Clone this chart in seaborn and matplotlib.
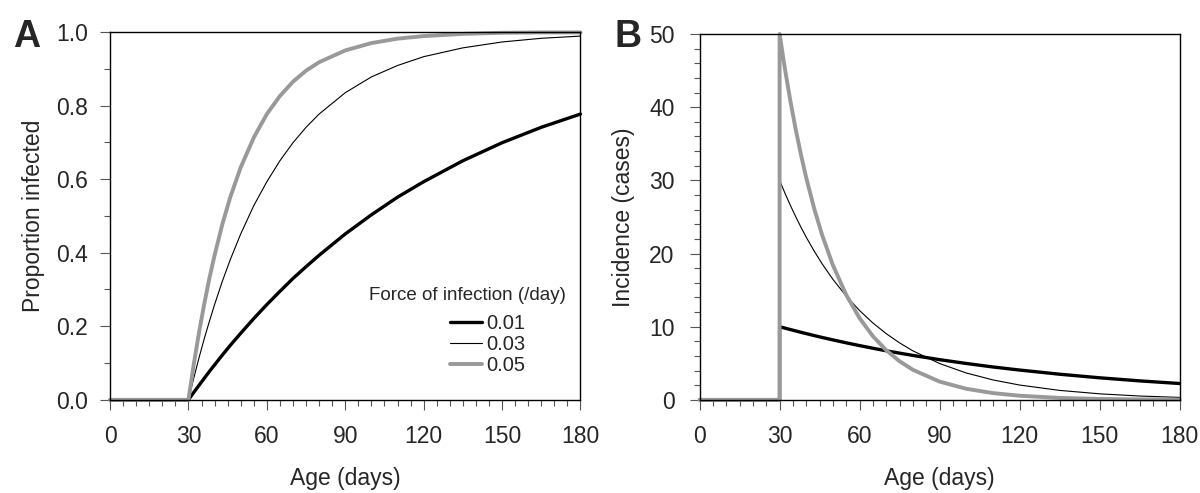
import matplotlib
matplotlib.use("Agg")
import matplotlib.pyplot as plt
from matplotlib.ticker import MultipleLocator
import seaborn as sns
import pandas as pd

# Age points (days); 30 repeated to show the step at onset
ages = [0, 30, 30, 32, 34, 36, 38, 40, 43, 46, 50, 55, 60, 65, 70, 75, 80,
        90, 100, 110, 120, 135, 150, 165, 180]
forces = ["0.01", "0.03", "0.05"]

prop_001 = [0, 0, 0, 0.020, 0.039, 0.058, 0.077, 0.095, 0.122, 0.148, 0.181, 0.221,
            0.259, 0.295, 0.330, 0.362, 0.393, 0.451, 0.503, 0.551, 0.593, 0.650,
            0.699, 0.741, 0.777]
prop_003 = [0, 0, 0, 0.058, 0.113, 0.165, 0.213, 0.259, 0.323, 0.381, 0.451, 0.528,
            0.593, 0.650, 0.699, 0.741, 0.777, 0.835, 0.878, 0.909, 0.933, 0.957,
            0.973, 0.983, 0.989]
prop_005 = [0, 0, 0, 0.095, 0.181, 0.259, 0.330, 0.393, 0.478, 0.551, 0.632, 0.713,
            0.777, 0.826, 0.865, 0.895, 0.918, 0.950, 0.970, 0.982, 0.989, 0.995,
            0.998, 0.999, 0.999]

inc_001 = [0, 0, 10, 9.80, 9.61, 9.42, 9.23, 9.05, 8.78, 8.52, 8.19, 7.79, 7.41,
           7.05, 6.70, 6.38, 6.07, 5.49, 4.97, 4.49, 4.07, 3.50, 3.01, 2.59, 2.23]
inc_003 = [0, 0, 30, 28.25, 26.61, 25.06, 23.60, 22.22, 20.31, 18.56, 16.46, 14.17,
           12.20, 10.50, 9.04, 7.78, 6.69, 4.96, 3.67, 2.72, 2.02, 1.29, 0.82, 0.52, 0.33]
inc_005 = [0, 0, 50, 45.24, 40.94, 37.04, 33.52, 30.33, 26.10, 22.47, 18.39, 14.33,
           11.16, 8.69, 6.77, 5.27, 4.10, 2.49, 1.51, 0.92, 0.56, 0.26, 0.12, 0.06, 0.03]

sns.set_theme(style="white")
plt.rcParams["font.family"] = ["Liberation Sans", "DejaVu Sans"]
plt.rcParams["axes.edgecolor"] = "black"
plt.rcParams["axes.linewidth"] = 1.0

styles = {"0.01": dict(color="black", lw=2.4),
          "0.03": dict(color="black", lw=0.8),
          "0.05": dict(color="#999999", lw=2.8)}

fig = plt.figure(figsize=(12, 4.93), dpi=100)
axA = fig.add_axes([0.0917, 0.189, 0.392, 0.746])
axB = fig.add_axes([0.583, 0.189, 0.400, 0.742])

for ax, series in [(axA, [prop_001, prop_003, prop_005]),
                   (axB, [inc_001, inc_003, inc_005])]:
    for f, vals in zip(forces, series):
        df = pd.DataFrame({"age": ages, "val": vals})
        sns.lineplot(data=df, x="age", y="val", ax=ax, estimator=None, sort=False,
                     label=f, clip_on=False, **styles[f])
    ax.set_xlim(0, 180)
    ax.xaxis.set_major_locator(MultipleLocator(30))
    ax.xaxis.set_minor_locator(MultipleLocator(5))
    ax.set_xlabel("Age (days)", fontsize=16.5, labelpad=14)
    ax.tick_params(axis="both", which="major", direction="out", length=7, width=0.8,
                   color="#555555", labelsize=16.5, bottom=True, left=True, pad=11)
    ax.tick_params(axis="both", which="minor", direction="out", length=4, width=0.8,
                   color="#555555", bottom=True, left=True)
    for s in ax.spines.values():
        s.set_color("black")
        s.set_linewidth(1.0)

axA.set_ylim(0, 1.0)
axA.yaxis.set_major_locator(MultipleLocator(0.2))
axA.yaxis.set_minor_locator(MultipleLocator(0.1))
axA.set_yticklabels([f"{v:.1f}" for v in axA.get_yticks()])
axA.set_ylabel("Proportion infected", fontsize=16.5, labelpad=8)
axA.tick_params(axis="y", which="major", pad=9)

axB.set_ylim(0, 50)
axB.yaxis.set_major_locator(MultipleLocator(10))
axB.yaxis.set_minor_locator(MultipleLocator(2))
axB.set_ylabel("Incidence (cases)", fontsize=16.5, labelpad=10)
axB.get_legend().remove()

leg = axA.legend(loc="upper right", bbox_to_anchor=(0.882, 0.232), frameon=False,
                 fontsize=14.5, handlelength=1.6, handletextpad=0.2,
                 labelspacing=0.08, borderaxespad=0, borderpad=0)
axA.text(0.968, 0.285, "Force of infection (/day)", transform=axA.transAxes,
         ha="right", va="center", fontsize=13.5)

fig.text(0.011, 0.905, "A", fontsize=27, fontweight="bold")
fig.text(0.512, 0.905, "B", fontsize=27, fontweight="bold")

fig.savefig("out.png", dpi=100)
